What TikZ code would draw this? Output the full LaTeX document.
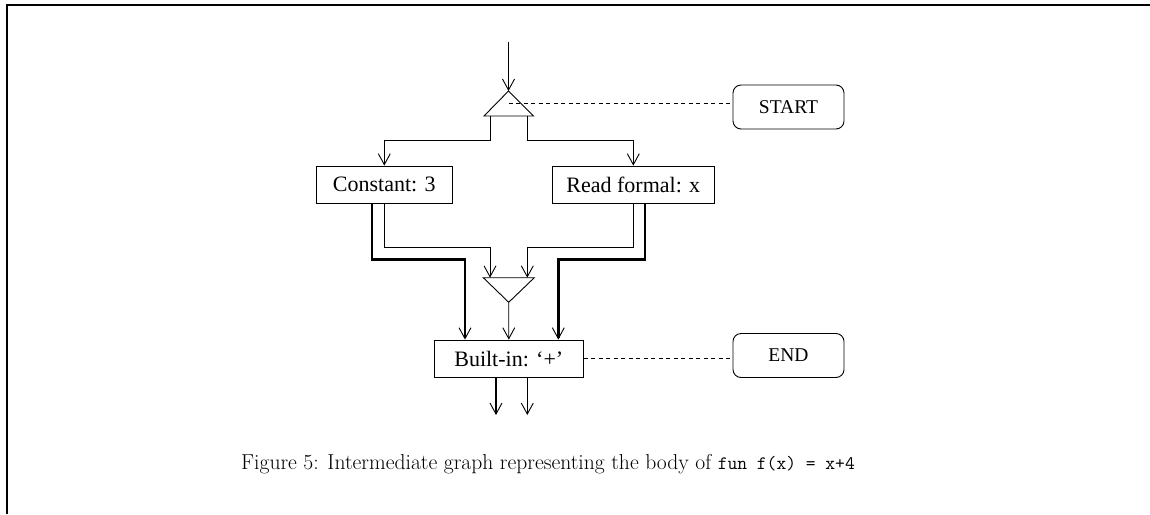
\documentclass[tikz,border=0pt]{standalone}
\usepackage{fontspec}
\newfontfamily\tms{Liberation Serif}
\usetikzlibrary{arrows.meta}
\begin{document}
\begin{tikzpicture}[x=1pt,y=-1pt,
  thinln/.style={line width=0.9pt},
  thickln/.style={line width=2.4pt},
  arr/.style={thinln,-{Straight Barb[length=11pt,width=12pt,line width=0.9pt]}},
  thickarr/.style={thickln,-{Straight Barb[length=11pt,width=12pt,line width=0.9pt]}},
  opbox/.style={draw,line width=0.9pt,inner sep=0pt,font=\tms\fontsize{22}{26}\selectfont},
  tagbox/.style={draw,line width=0.9pt,rounded corners=8pt,inner sep=0pt,
    minimum width=111pt,minimum height=44pt,font=\tms\fontsize{19.5}{23}\selectfont},
  link/.style={thinln,dashed,dash pattern=on 4pt off 3.5pt}]
\useasboundingbox (0,0) rectangle (1150,514);
% page frame
\draw[line width=2pt] (6.7,514) -- (6.7,5) -- (1150,5);

% operator boxes
\node[opbox,minimum width=136.7pt,minimum height=37.3pt] (const) at (384.3,184.7) {Constant: 3};
\node[opbox,minimum width=161.3pt,minimum height=37.3pt] (read) at (633.3,184.7) {Read formal: x};
\node[opbox,minimum width=149pt,minimum height=37.3pt] (plus) at (508.8,358.7) {Built-in: ‘+’};
\node[tagbox] (start) at (788.5,107) {START};
\node[tagbox] (end) at (788.5,355.5) {END};

% fork triangle (pointing up)
\coordinate (forktop) at (508.5,91);
\coordinate (forkl) at (484,116);
\coordinate (forkr) at (533.5,116);
\coordinate (forkmid) at (508.5,103.3);
\coordinate (forkoutl) at (490,116);
\coordinate (forkoutr) at (527.3,116);
\draw[thinln,line join=miter] (forktop) -- (forkl) -- (forkr) -- cycle;

% merge triangle (pointing down)
\coordinate (mergel) at (483.3,277.7);
\coordinate (merger) at (534.3,277.7);
\coordinate (mergebot) at (508.7,302.3);
\coordinate (mergeinl) at (490,277.7);
\coordinate (mergeinr) at (527.3,277.7);
\draw[thinln,line join=miter] (mergel) -- (merger) -- (mergebot) -- cycle;

% entry
\coordinate (entry) at (508.5,41.7);
\draw[arr] (entry) -- (forktop);
\draw[link] (forkmid) -- (forkmid -| start.west);

% fork to the two operators
\draw[arr] (forkoutl) -- ++(0,24.7) -| (const.north);
\draw[arr] (forkoutr) -- ++(0,24.7) -| (read.north);

% control edges into the merge
\draw[arr] (const.south) -- ++(0,43.4) -| (mergeinl);
\draw[arr] (read.south) -- ++(0,43.4) -| (mergeinr);
\draw[arr] (mergebot) -- (plus.north);

% data edges into the built-in
\draw[thickarr] ([xshift=-12.6pt]const.south) -- ++(0,55.7) -| ([xshift=-43.8pt]plus.north);
\draw[thickarr] ([xshift=11.7pt]read.south) -- ++(0,55.7) -| ([xshift=49.5pt]plus.north);

% outputs
\coordinate (outd) at (496,415);
\coordinate (outc) at (527.3,415);
\draw[thickarr] ([xshift=-12.8pt]plus.south) -- (outd);
\draw[arr] ([xshift=18.5pt]plus.south) -- (outc);
\draw[link] (plus.east) -- (plus.east -| end.west);

% caption
\node[anchor=base west,inner sep=0pt,font=\fontsize{21.6}{26}\selectfont] (cap) at (241,469)
  {Figure 5: Intermediate graph representing the body of {\fontsize{19}{26}\selectfont\ttfamily fun f(x) = x+4}};
\end{tikzpicture}
\end{document}
